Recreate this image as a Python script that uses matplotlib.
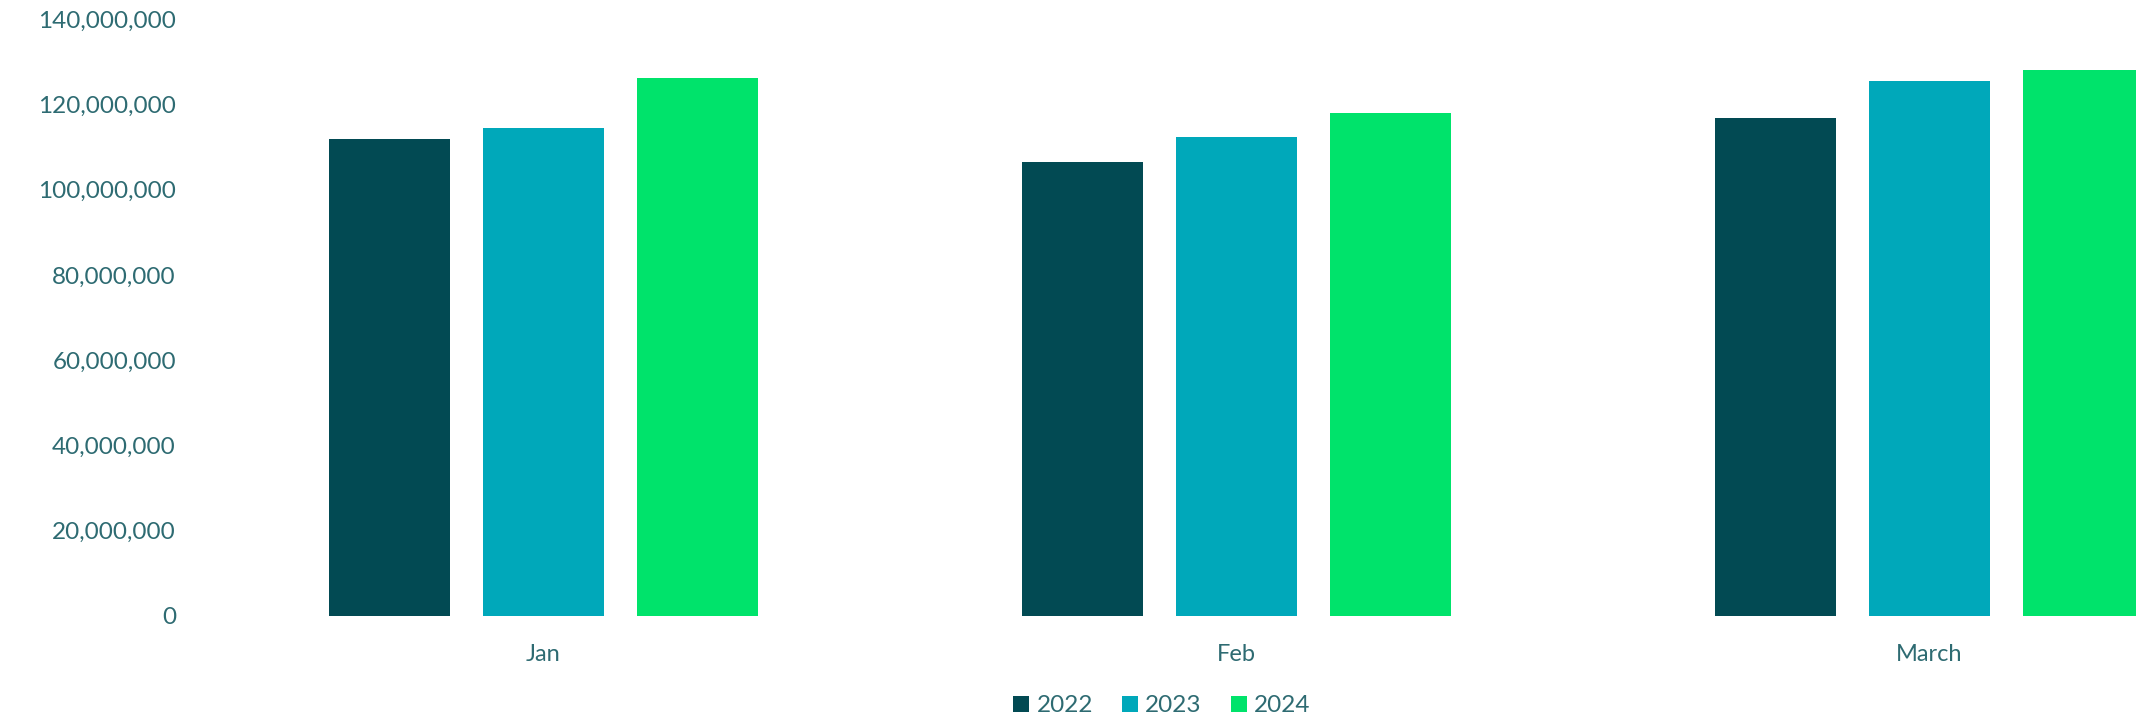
import matplotlib
matplotlib.use("Agg")
from matplotlib import pyplot as plt
from matplotlib.ticker import FuncFormatter
import numpy as np

# data
months = ["Jan", "Feb", "March"]
years = ["2022", "2023", "2024"]
v2022 = [111.8e6, 106.5e6, 116.8e6]
v2023 = [114.4e6, 112.3e6, 125.4e6]
v2024 = [126.1e6, 118.0e6, 128.0e6]
colors = ["#024a53", "#00a8ba", "#00e36b"]
txt = "#2e6b72"

plt.rcParams['font.family'] = ['Lato', 'DejaVu Sans']

fig = plt.figure(figsize=(21.36, 7.16), dpi=100)
ax = fig.add_axes([196.8 / 2136, 100 / 716, 1 - 196.8 / 2136, 597 / 716])

x = np.arange(len(months))
w = 0.1746
step = 0.2218
for i, (vals, yr) in enumerate(zip([v2022, v2023, v2024], years)):
    ax.bar(x + (i - 1) * step, vals, width=w, color=colors[i], label=yr)

ax.set_xlim(-0.5, 2.298)
ax.set_ylim(0, 140e6)
ax.set_yticks(np.arange(0, 140e6 + 1, 20e6))
ax.yaxis.set_major_formatter(FuncFormatter(lambda v, p: f"{int(v):,}"))
ax.set_xticks(x)
ax.set_xticklabels(months)
ax.tick_params(axis="y", length=0, pad=15, labelsize=17.5, labelcolor=txt)
ax.tick_params(axis="x", length=0, pad=20, labelsize=17, labelcolor=txt)
for s in ax.spines.values():
    s.set_visible(False)

leg = fig.legend(loc="center", bbox_to_anchor=(1162 / 2136, 1 - 706 / 716), ncol=3,
                 frameon=False, fontsize=17.5, handlelength=0.65, handleheight=0.65,
                 handletextpad=0.3, columnspacing=1.2)
for t in leg.get_texts():
    t.set_color(txt)

fig.savefig("out.png", dpi=100)
